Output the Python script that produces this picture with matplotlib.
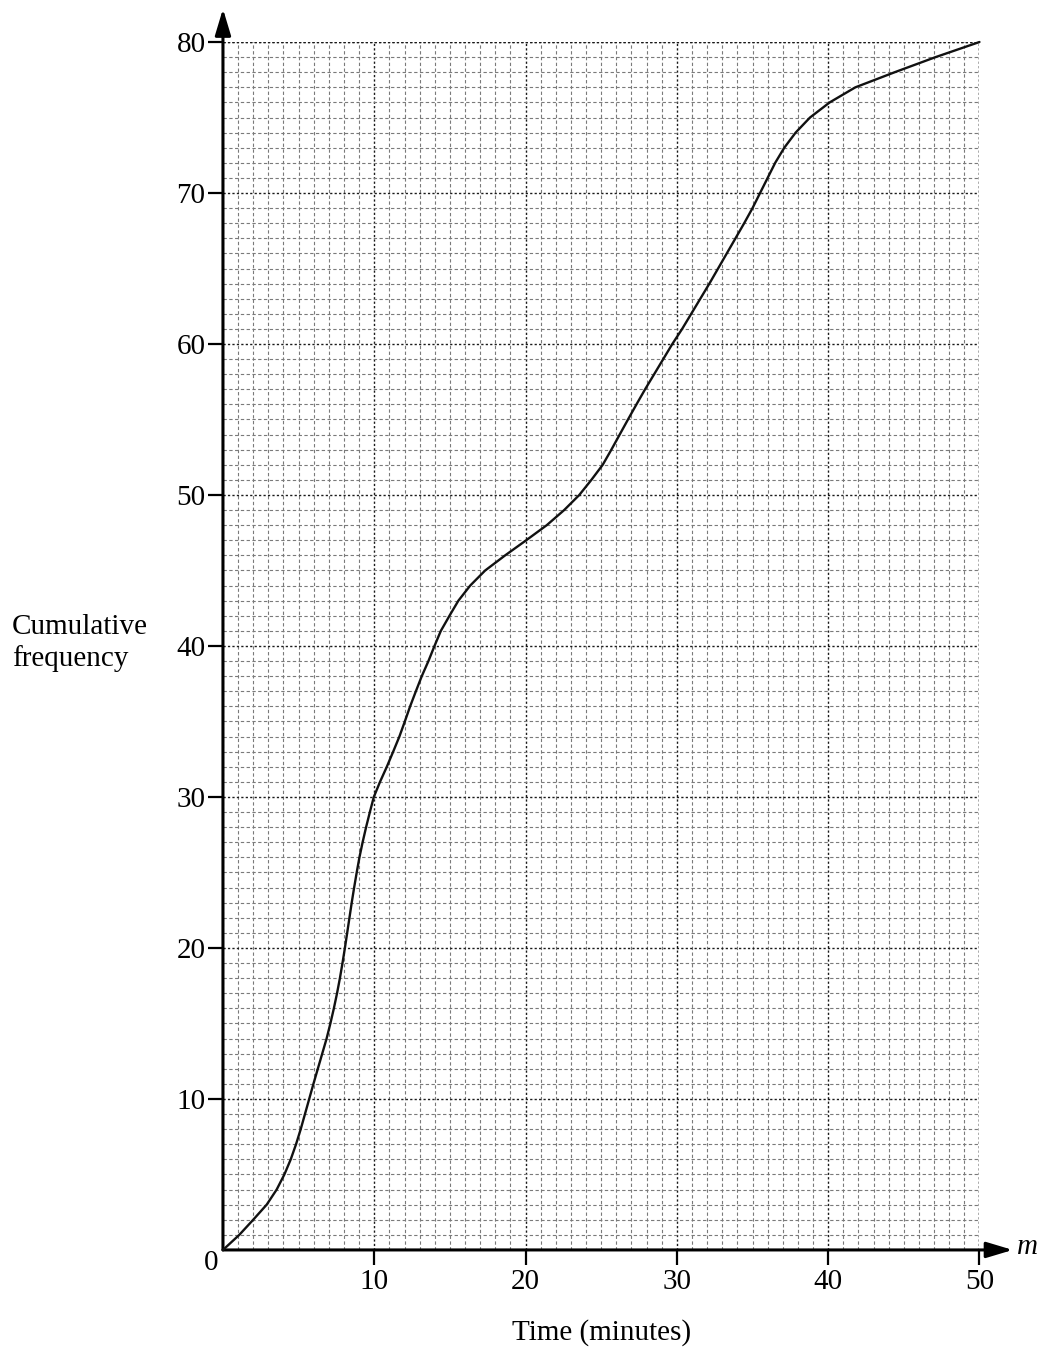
import matplotlib.pyplot as plt
from matplotlib.ticker import MultipleLocator

# curve points (time in minutes, cumulative frequency)
time_min = [0, 1.08, 2.0, 2.89, 3.55, 4.06, 4.48, 4.83, 5.14, 5.42, 5.7,
            5.98, 6.27, 6.56, 6.85, 7.1, 7.33, 7.54, 7.73, 7.9, 8.06,
            8.21, 8.36, 8.51, 8.67, 8.84, 9.02, 9.23, 9.46, 9.71, 9.97,
            10.38, 10.83, 11.25, 11.66, 12.02, 12.37, 12.75, 13.14, 13.58,
            13.98, 14.4, 14.97, 15.56, 16.34, 17.33, 18.65, 20.04, 21.4,
            22.55, 23.55, 24.35, 25.1, 25.67, 26.22, 26.77, 27.33, 27.9,
            28.5, 29.1, 29.7, 30.35, 30.95, 32.15, 33.3, 34.45, 35.0, 35.5,
            36.0, 36.5, 37.1, 37.85, 38.8, 40.1, 41.8, 44.4, 47.1, 50]
cum_freq = [0, 1, 2, 3, 4, 5, 6, 7, 8, 9, 10,
            11, 12, 13, 14, 15, 16, 17, 18, 19, 20,
            21, 22, 23, 24, 25, 26, 27, 28, 29, 30,
            31, 32, 33, 34, 35, 36, 37, 38, 39,
            40, 41, 42, 43, 44, 45, 46, 47, 48,
            49, 50, 51, 52, 53, 54, 55, 56, 57,
            58, 59, 60, 61, 62, 64, 66, 68, 69, 70,
            71, 72, 73, 74, 75, 76, 77, 78, 79, 80]

x_ticks = [10, 20, 30, 40, 50]
y_ticks = [10, 20, 30, 40, 50, 60, 70, 80]

plt.rcParams['font.family'] = ['Liberation Serif', 'DejaVu Serif']
FS = 21

fig = plt.figure(figsize=(10.38, 13.51), dpi=100)
ax = fig.add_axes([0.2148, 0.0748, 0.7288, 0.8941])
ax.set_xlim(0, 50)
ax.set_ylim(0, 80)

# graph paper grid
ax.xaxis.set_minor_locator(MultipleLocator(1))
ax.yaxis.set_minor_locator(MultipleLocator(1))
ax.grid(which='minor', color='#7a7a7a', lw=0.8, linestyle=(0, (3, 2.2)))
ax.grid(which='major', color='#1a1a1a', lw=1.0, linestyle=(0, (1.6, 1.6)))
ax.set_axisbelow(True)
ax.axvline(50, color='#1a1a1a', lw=1.0, linestyle=(0, (1.6, 1.6)))
ax.axhline(80, color='#1a1a1a', lw=1.0, linestyle=(0, (1.6, 1.6)))

for s in ax.spines.values():
    s.set_visible(False)

ax.set_xticks(x_ticks)
ax.set_yticks(y_ticks)
ax.set_xticklabels([str(t) for t in x_ticks])
ax.set_yticklabels([str(t) for t in y_ticks])
ax.tick_params(which='major', length=10.5, width=1.6, color='black',
               labelsize=FS, direction='out')
ax.tick_params(axis='x', pad=3.5)
ax.tick_params(axis='y', pad=2)
ax.tick_params(which='minor', length=0)

# axes with arrow heads
arrow = dict(arrowstyle='-|>,head_length=0.8,head_width=0.24', color='black',
             lw=2.2, shrinkA=0, shrinkB=0, mutation_scale=20)
ax.annotate('', xy=(0, 82.2), xytext=(0, 0), arrowprops=arrow,
            annotation_clip=False)
ax.annotate('', xy=(52.2, 0), xytext=(0, 0), arrowprops=arrow,
            annotation_clip=False)

ax.plot(time_min, cum_freq, color='#111111', lw=1.7, solid_joinstyle='round',
        solid_capstyle='round', clip_on=False, zorder=5)

ax.text(-0.75, -0.85, '0', fontsize=FS, ha='center', va='center')
ax.text(53.2, 0.2, 'm', fontsize=FS, style='italic', ha='center', va='center')
ax.text(25, -5.5, 'Time (minutes)', fontsize=FS, ha='center', va='center')
fig.text(12 / 1038, 1 - 643 / 1351, 'Cumulative\nfrequency', fontsize=FS,
         ha='left', va='center', linespacing=1.2)

fig.savefig('out.png', dpi=100)
